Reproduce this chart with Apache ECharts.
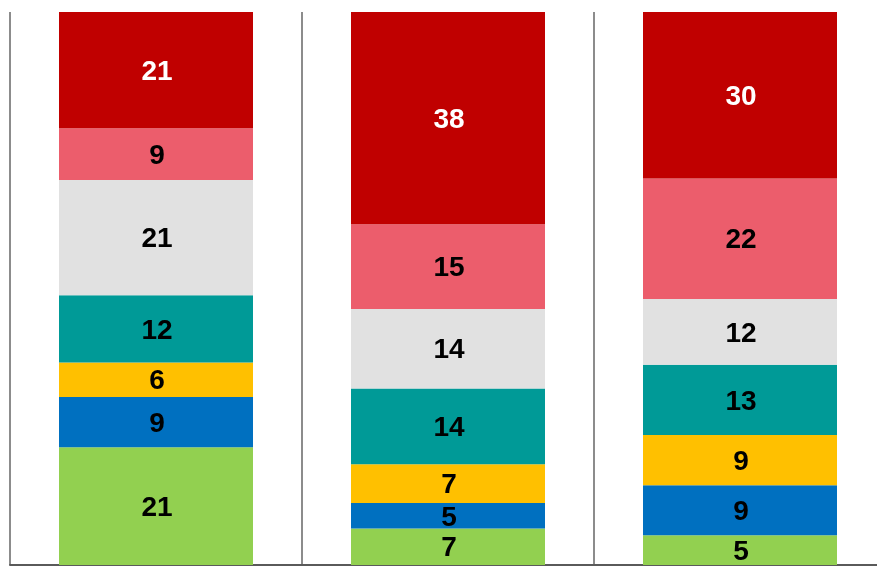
<!DOCTYPE html>
<html>
<head>
    <meta charset="utf-8">
    <title>Stacked 100% bars</title>
    <script src="https://cdn.jsdelivr.net/npm/echarts@6/dist/echarts.min.js"></script>
    <style>
        html, body { margin: 0; padding: 0; background: #fff; }
    </style>
</head>
<body>
<div id="main" style="width: 877px;height:566px;"></div>
<script type="text/javascript">

    /* data (share in %, bottom to top) =============== */
    var categories = ['A', 'B', 'C'];
    var greenVals  = [21.3, 6.6, 5.4];
    var blueVals   = [9.1, 4.6, 9.0];
    var yellowVals = [6.2, 7.0, 9.1];
    var tealVals   = [12.2, 13.7, 12.7];
    var grayVals   = [20.8, 14.4, 11.9];
    var pinkVals   = [9.4, 15.3, 21.8];
    var redVals    = [21.0, 38.4, 30.1];

    var myChart = echarts.init(document.getElementById('main'));

    function seg(name, data, color, textColor) {
        return {
            name: name,
            type: 'bar',
            stack: 'total',
            barWidth: 194,
            data: data,
            itemStyle: {color: color},
            label: {
                show: true,
                position: 'inside',
                offset: [1, 2],
                formatter: function (p) { return Math.round(p.value); },
                color: textColor,
                fontFamily: 'Liberation Sans, Arial, sans-serif',
                fontWeight: 'bold',
                fontSize: 28
            }
        };
    }

    myChart.setOption({
        animation: false,
        grid: {left: 10, right: -9, top: 12, bottom: 1, outerBoundsMode: 'none'},
        xAxis: {
            type: 'category',
            data: categories,
            axisLine: {show: true, lineStyle: {color: '#5a5a5a', width: 2}},
            axisTick: {show: false},
            axisLabel: {show: false},
            splitLine: {show: true, lineStyle: {color: '#8c8c8c', width: 2}}
        },
        yAxis: {
            type: 'value',
            min: 0,
            max: 100,
            show: false,
            splitLine: {show: false}
        },
        series: [
            seg('green', greenVals, '#92D050', '#000'),
            seg('blue', blueVals, '#0070C0', '#000'),
            seg('yellow', yellowVals, '#FFC000', '#000'),
            seg('teal', tealVals, '#009A97', '#000'),
            seg('gray', grayVals, '#E1E1E1', '#000'),
            seg('pink', pinkVals, '#EC5D6C', '#000'),
            seg('red', redVals, '#C00000', '#fff')
        ]
    });

</script>
</body>
</html>
